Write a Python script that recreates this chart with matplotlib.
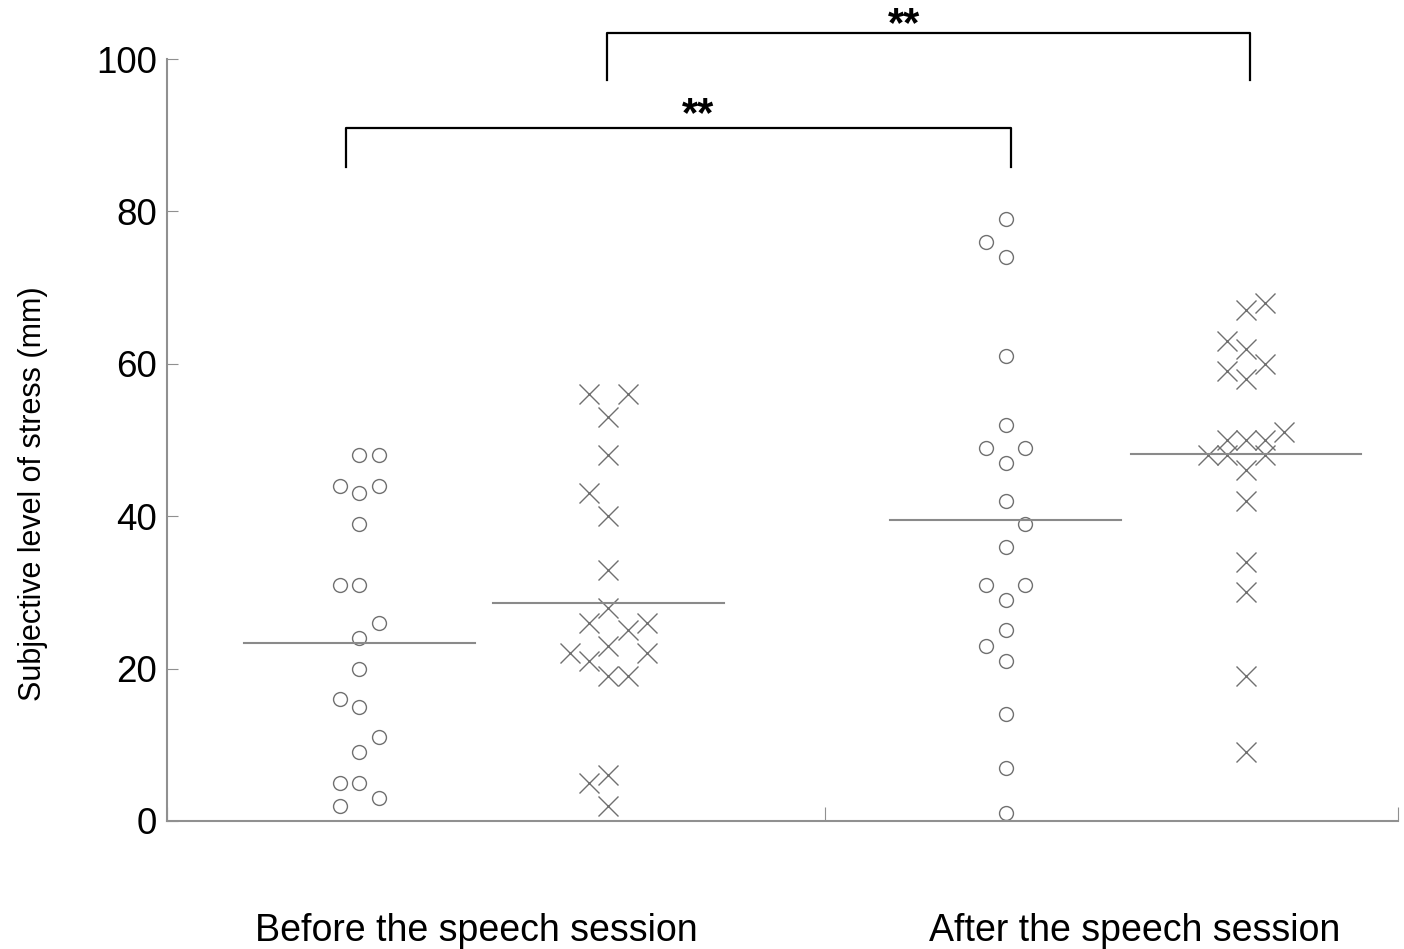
import matplotlib
matplotlib.use("Agg")
from matplotlib import pyplot as plt

plt.rcParams['font.family'] = ['Liberation Sans', 'DejaVu Sans']

# values (mm), with their column slot in the dot plot
before_circle_vals = [48, 48, 44, 43, 44, 39, 31, 31, 26, 24, 20, 16, 15, 11, 9, 5, 5, 3, 2]
before_circle_cols = [0, 1, -1, 0, 1, 0, -1, 0, 1, 0, 0, -1, 0, 1, 0, -1, 0, 1, -1]

before_cross_vals = [56, 56, 53, 48, 43, 40, 33, 28, 26, 25, 26, 23, 22, 21, 22, 19, 19, 5, 6, 2]
before_cross_cols = [-1, 1, 0, 0, -1, 0, 0, 0, -1, 1, 2, 0, -2, -1, 2, 0, 1, -1, 0, 0]

after_circle_vals = [79, 76, 74, 61, 52, 49, 49, 47, 42, 39, 36, 31, 31, 29, 25, 23, 21, 14, 7, 1]
after_circle_cols = [0, -1, 0, 0, 0, -1, 1, 0, 0, 1, 0, -1, 1, 0, 0, -1, 0, 0, 0, 0]

after_cross_vals = [67, 68, 63, 62, 60, 59, 58, 50, 50, 50, 51, 48, 48, 48, 46, 42, 34, 30, 19, 9]
after_cross_cols = [0, 1, -1, 0, 1, -1, 0, -1, 0, 1, 2, -2, -1, 1, 0, 0, 0, 0, 0, 0]

# mean lines as drawn in the picture
mean_lines = [23.4, 28.6, 39.5, 48.2]

categories = ["Before the speech session", "After the speech session"]
ylabel = "Subjective level of stress (mm)"

# layout
group_x = [10.0, 22.95, 43.6, 56.1]
col_step = 1.0
half_w = 6.0
cat_x = [16.1, 50.3]

fig = plt.figure(figsize=(14.04, 9.49), dpi=100)
ax = fig.add_axes([0.1189, 0.1349, 0.8768, 0.8029])
ax.set_xlim(0, 64)
ax.set_ylim(0, 100)

grey = "#707070"
groups = [(before_circle_vals, before_circle_cols, 'o'),
          (before_cross_vals, before_cross_cols, 'x'),
          (after_circle_vals, after_circle_cols, 'o'),
          (after_cross_vals, after_cross_cols, 'x')]
for (vals, cols, mk), gx, m in zip(groups, group_x, mean_lines):
    xs = [gx + c * col_step for c in cols]
    if mk == 'o':
        ax.plot(xs, vals, ls='', marker='o', ms=10, mfc='none', mec=grey, mew=1.0, clip_on=False)
    else:
        ax.plot(xs, vals, ls='', marker='x', ms=14, mec=grey, mew=1.0, clip_on=False)
    ax.plot([gx - half_w, gx + half_w], [m, m], color="#8a8a8a", lw=1.5)

# axes look
for s in ['top', 'right']:
    ax.spines[s].set_visible(False)
for s in ['left', 'bottom']:
    ax.spines[s].set_color("#909090")
    ax.spines[s].set_linewidth(1.5)
ax.set_yticks([0, 20, 40, 60, 80, 100])
ax.tick_params(axis='y', direction='in', length=8, color="#909090", labelsize=26.5, pad=7)
ax.set_xticks([0, 34.2, 64])
ax.set_xticklabels([])
ax.tick_params(axis='x', direction='in', length=10, color="#909090")
ax.set_ylabel(ylabel, fontsize=22)
ax.yaxis.set_label_coords(-0.097, 0.429)

for cx, lab in zip(cat_x, categories):
    ax.text(cx, -14.5, lab, ha='center', va='center', fontsize=27)

# significance brackets
brackets = [(9.3, 43.9, 85.8, 90.9, 27.6, 92.6),
            (22.9, 56.3, 97.2, 103.4, 38.3, 104.4)]
for x0, x1, ylo, yhi, sx, sy in brackets:
    ax.plot([x0, x0, x1, x1], [ylo, yhi, yhi, ylo], color='black', lw=1.6, clip_on=False)
    ax.text(sx, sy, "**", ha='center', va='center', fontsize=30, fontweight='bold', clip_on=False)

fig.savefig("out.png", dpi=100)
